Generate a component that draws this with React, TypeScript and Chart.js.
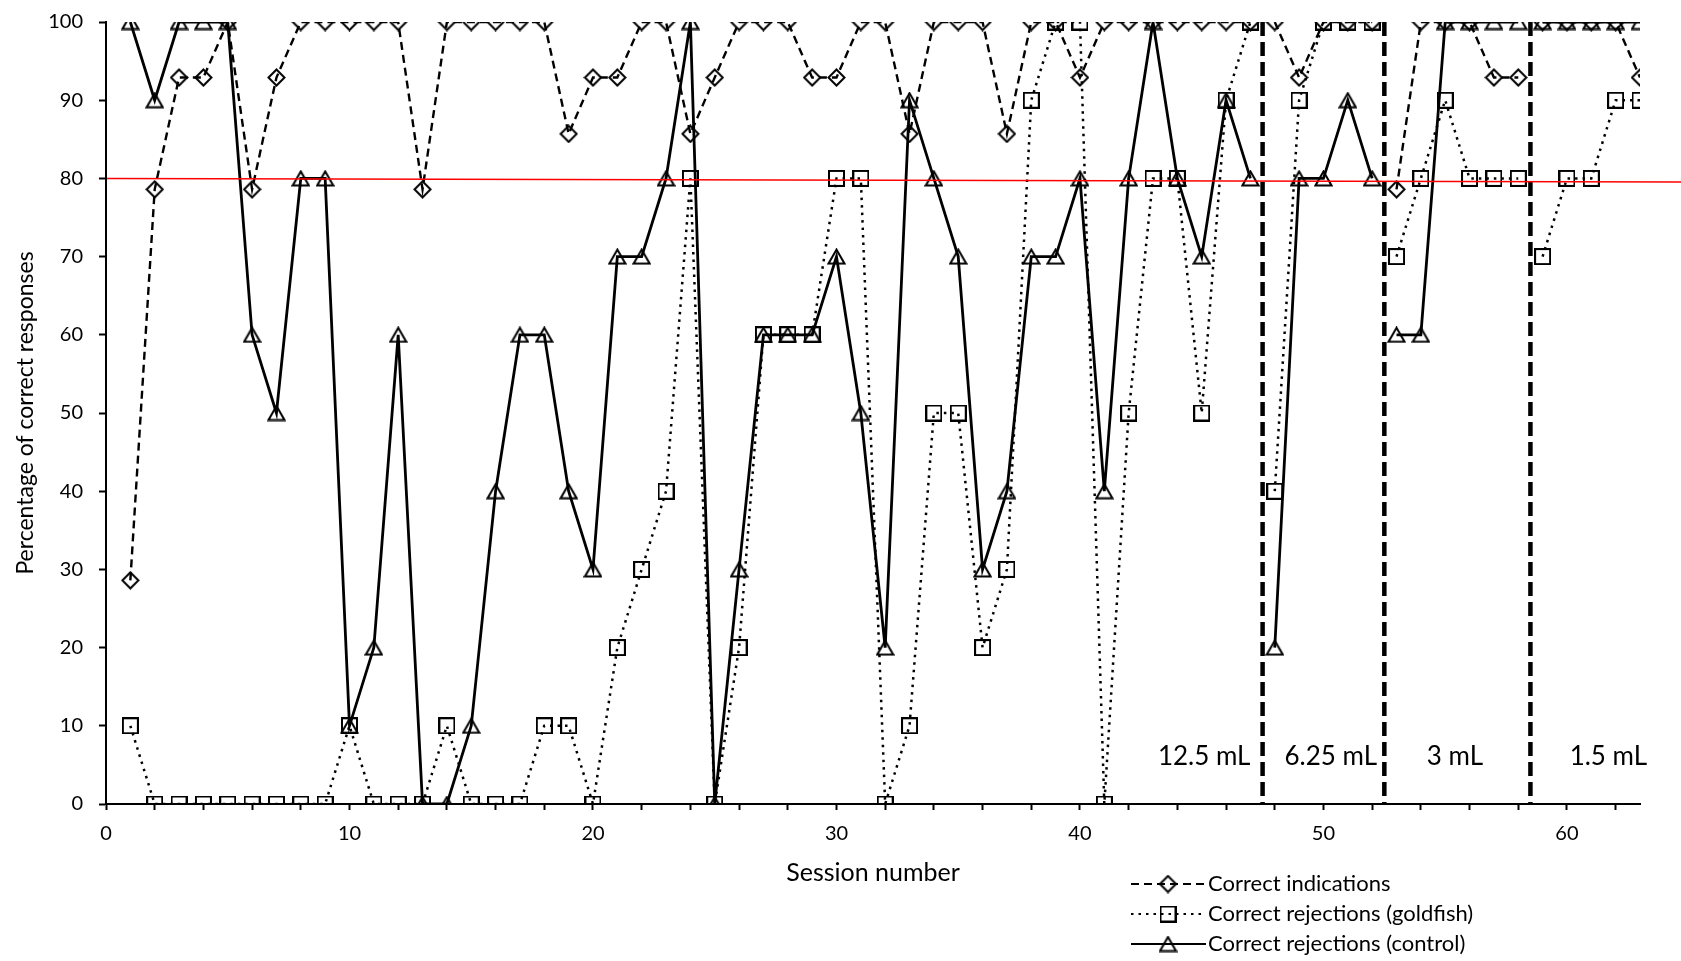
import React, { useEffect, useRef } from "react";
import { Chart, registerables } from "chart.js";

Chart.register(...registerables);

// ---- Data ----
const sessions = [
  1, 2, 3, 4, 5, 6, 7, 8, 9, 10, 11, 12, 13, 14, 15, 16, 17, 18, 19, 20,
  21, 22, 23, 24, 25, 26, 27, 28, 29, 30, 31, 32, 33, 34, 35, 36, 37, 38, 39, 40,
  41, 42, 43, 44, 45, 46, 47, 48, 49, 50, 51, 52, 53, 54, 55, 56, 57, 58, 59, 60,
  61, 62, 63,
];

const correctIndications = [
  28.6, 78.6, 92.9, 92.9, 100, 78.6, 92.9, 100, 100, 100,
  100, 100, 78.6, 100, 100, 100, 100, 100, 85.7, 92.9,
  92.9, 100, 100, 85.7, 92.9, 100, 100, 100, 92.9, 92.9,
  100, 100, 85.7, 100, 100, 100, 85.7, 100, 100, 92.9,
  100, 100, 100, 100, 100, 100, 100, 100, 92.9, 100,
  100, 100, 78.6, 100, 100, 100, 92.9, 92.9, 100, 100,
  100, 100, 92.9,
];

const rejectionsGoldfish = [
  10, 0, 0, 0, 0, 0, 0, 0, 0, 10,
  0, 0, 0, 10, 0, 0, 0, 10, 10, 0,
  20, 30, 40, 80, 0, 20, 60, 60, 60, 80,
  80, 0, 10, 50, 50, 20, 30, 90, 100, 100,
  0, 50, 80, 80, 50, 90, 100, 40, 90, 100,
  100, 100, 70, 80, 90, 80, 80, 80, 70, 80,
  80, 90, 90,
];

const rejectionsControl = [
  100, 90, 100, 100, 100, 60, 50, 80, 80, 10,
  20, 60, 0, 0, 10, 40, 60, 60, 40, 30,
  70, 70, 80, 100, 0, 30, 60, 60, 60, 70,
  50, 20, 90, 80, 70, 30, 40, 70, 70, 80,
  40, 80, 100, 80, 70, 90, 80, 20, 80, 80,
  90, 80, 60, 60, 100, 100, 100, 100, 100, 100,
  100, 100, 100,
];

const seriesNames = [
  "Correct indications",
  "Correct rejections (goldfish)",
  "Correct rejections (control)",
];

const phaseBoundaries = [47.5, 52.5, 58.5];
const phaseLabels = ["12.5 mL", "6.25 mL", "3 mL", "1.5 mL"];
const phaseLabelX = [45.1, 50.3, 55.4, 61.7];
const phaseLabelY = 6;

const criterionY = 80;
const criterionYRightEnd = 79.55;

const xTitle = "Session number";
const yTitle = "Percentage of correct responses";

// ---- Helpers ----
function withGaps(values: number[]) {
  const pts: { x: number; y: number | null }[] = [];
  for (let i = 0; i < sessions.length; i++) {
    const s = sessions[i];
    for (const b of phaseBoundaries) {
      if (i > 0 && sessions[i - 1] < b && s > b) pts.push({ x: b, y: null });
    }
    pts.push({ x: s, y: values[i] });
  }
  return pts;
}

function makeMarker(kind: string) {
  const c = document.createElement("canvas");
  let w = 18, h = 18;
  if (kind === "diamond") { w = 19; h = 19; }
  if (kind === "square") { w = 17; h = 17; }
  if (kind === "triangle") { w = 19; h = 17; }
  c.width = w; c.height = h;
  const g = c.getContext("2d")!;
  g.strokeStyle = "#000";
  g.lineWidth = 2;
  g.lineJoin = "miter";
  g.beginPath();
  if (kind === "diamond") {
    g.moveTo(9.5, 1.5); g.lineTo(17.5, 9.5); g.lineTo(9.5, 17.5); g.lineTo(1.5, 9.5); g.closePath();
  } else if (kind === "square") {
    g.rect(1, 1, 15, 15);
  } else {
    g.moveTo(9.5, 1.5); g.lineTo(17.5, 15.5); g.lineTo(1.5, 15.5); g.closePath();
  }
  g.stroke();
  return c;
}

const FONT = "Lato, 'Open Sans', sans-serif";

export default function App() {
  const ref = useRef<HTMLCanvasElement>(null);

  useEffect(() => {
    const canvas = ref.current!;
    const mDiamond = makeMarker("diamond");
    const mSquare = makeMarker("square");
    const mTriangle = makeMarker("triangle");

    const styles = [
      { dash: [8, 5], width: 2.4, marker: mDiamond },
      { dash: [2.5, 5], width: 2.5, marker: mSquare },
      { dash: [], width: 2.8, marker: mTriangle },
    ];

    const overlay = {
      id: "overlay",
      afterDatasetsDraw(chart: any) {
        const { ctx } = chart;
        const x = chart.scales.x;
        const y = chart.scales.y;
        ctx.save();
        // phase separators
        ctx.strokeStyle = "#000";
        ctx.lineWidth = 4.5;
        ctx.setLineDash([14, 6]);
        for (const b of phaseBoundaries) {
          const px = x.getPixelForValue(b);
          ctx.beginPath();
          ctx.moveTo(px, y.getPixelForValue(100));
          ctx.lineTo(px, y.getPixelForValue(0));
          ctx.stroke();
        }
        // criterion line
        ctx.setLineDash([]);
        ctx.strokeStyle = "#ff0000";
        ctx.lineWidth = 1.5;
        ctx.beginPath();
        ctx.moveTo(x.getPixelForValue(0) + 1, y.getPixelForValue(criterionY));
        ctx.lineTo(chart.width, y.getPixelForValue(criterionYRightEnd));
        ctx.stroke();
        // phase labels
        ctx.fillStyle = "#000";
        ctx.font = `26px ${FONT}`;
        ctx.textAlign = "center";
        ctx.textBaseline = "middle";
        phaseLabels.forEach((t, i) => {
          ctx.fillText(t, x.getPixelForValue(phaseLabelX[i]), y.getPixelForValue(phaseLabelY));
        });
        ctx.restore();
      },
      afterDraw(chart: any) {
        const { ctx, chartArea } = chart;
        ctx.save();
        ctx.fillStyle = "#000";
        // x title
        ctx.font = `25px ${FONT}`;
        ctx.textAlign = "center";
        ctx.textBaseline = "middle";
        ctx.fillText(xTitle, (chartArea.left + chartArea.right) / 2, 873);
        // y title
        ctx.save();
        ctx.translate(26, (chartArea.top + chartArea.bottom) / 2);
        ctx.rotate(-Math.PI / 2);
        ctx.font = `23px ${FONT}`;
        ctx.fillText(yTitle, 0, 0);
        ctx.restore();
        // legend
        const rows = [884, 914, 944];
        const x0 = 1131, x1 = 1206, xm = 1168;
        ctx.font = `22px ${FONT}`;
        ctx.textAlign = "left";
        seriesNames.forEach((name, i) => {
          const st = styles[i];
          const yy = rows[i];
          ctx.strokeStyle = "#000";
          ctx.lineWidth = st.width * 0.8;
          ctx.setLineDash(st.dash);
          ctx.beginPath();
          ctx.moveTo(x0, yy);
          ctx.lineTo(x1, yy);
          ctx.stroke();
          ctx.setLineDash([]);
          const m = st.marker;
          ctx.drawImage(m, xm - m.width / 2, yy - m.height / 2);
          ctx.fillText(name, 1208, yy);
        });
        ctx.restore();
      },
    };

    const data = [correctIndications, rejectionsGoldfish, rejectionsControl];

    const chart = new Chart(canvas, {
      type: "line",
      data: {
        datasets: data.map((vals, i) => ({
          label: seriesNames[i],
          data: withGaps(vals),
          borderColor: "#000",
          borderWidth: styles[i].width,
          borderDash: styles[i].dash,
          borderCapStyle: "butt",
          pointStyle: styles[i].marker,
          pointRadius: 9,
          pointBackgroundColor: "transparent",
          pointBorderColor: "#000",
          fill: false,
          tension: 0,
          spanGaps: false,
        })),
      } as any,
      options: {
        responsive: false,
        animation: false,
        devicePixelRatio: 1,
        parsing: true,
        layout: { padding: { left: 0, right: 41, top: 22, bottom: 0 } },
        plugins: {
          legend: { display: false },
          tooltip: { enabled: false },
        },
        scales: {
          x: {
            type: "linear",
            min: 0,
            max: 63,
            afterFit(scale: any) { scale.height = 157; scale.paddingLeft = 0; scale.paddingRight = 0; },
            border: { display: true, color: "#000", width: 2 },
            grid: { display: true, drawOnChartArea: false, drawTicks: true, tickLength: 6, tickWidth: 2, tickColor: "#000" },
            ticks: {
              stepSize: 2,
              includeBounds: false,
              autoSkip: false,
              maxRotation: 0,
              padding: 12,
              color: "#000",
              font: { family: FONT, size: 20 },
              callback: (v: any) => (Number(v) % 10 === 0 ? String(v) : ""),
            },
          },
          y: {
            min: 0,
            max: 100,
            afterFit(scale: any) { scale.width = 106; scale.paddingTop = 0; scale.paddingBottom = 0; },
            border: { display: true, color: "#000", width: 2 },
            grid: { display: true, drawOnChartArea: false, drawTicks: true, tickLength: 7, tickWidth: 2, tickColor: "#000" },
            ticks: {
              stepSize: 10,
              padding: 16,
              color: "#000",
              font: { family: FONT, size: 20 },
            },
          },
        },
      } as any,
      plugins: [overlay],
    });
    return () => chart.destroy();
  }, []);

  return (
    <div style={{ position: "fixed", left: 0, top: 0, width: 1681, height: 961, background: "#fff" }}>
      <canvas ref={ref} width={1681} height={961} style={{ width: 1681, height: 961, display: "block" }} />
    </div>
  );
}
